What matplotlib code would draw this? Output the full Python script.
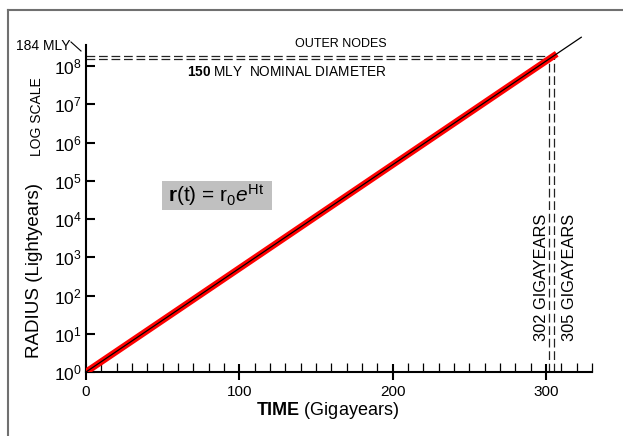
import numpy as np
import matplotlib
matplotlib.use("Agg")
import matplotlib.pyplot as plt
from matplotlib.lines import Line2D
from matplotlib.patches import Rectangle

plt.rcParams['font.family'] = ['Liberation Sans', 'DejaVu Sans']
plt.rcParams['mathtext.fontset'] = 'custom'
plt.rcParams['mathtext.rm'] = 'Liberation Sans'
plt.rcParams['mathtext.it'] = 'Liberation Sans:italic'
plt.rcParams['mathtext.bf'] = 'Liberation Sans:bold'

# data
t_red = [0, 307]            # gigayears, red band
t_black = [0, 323]          # gigayears, thin black line
r_outer = 1.84e8            # 184 MLY
r_nominal = 1.5e8           # 150 MLY
t_outer = 305
t_nominal = 302
H = np.log(r_outer) / t_outer
x_major = [0, 100, 200, 300]
y_decades = [10.0**k for k in range(9)]

W, Hpx = 623, 436
fig = plt.figure(figsize=(W / 100, Hpx / 100), dpi=100)

def fx(x):
    return x / W

def fy(y):
    return 1 - y / Hpx

ax = fig.add_axes([fx(86), fy(372), (592 - 86) / W, (372 - 45) / Hpx])
ax.set_yscale('log')
ax.set_xlim(0, 330)
ax.set_ylim(1, 10**8.55)

for s in ['top', 'right']:
    ax.spines[s].set_visible(False)
for s in ['left', 'bottom']:
    ax.spines[s].set_linewidth(1.5)

tr = np.array(t_red, dtype=float)
tb = np.array(t_black, dtype=float)
ax.plot(tr, np.exp(H * tr), color='#ff0000', lw=4.8, solid_capstyle='butt', zorder=3)
ax.plot(tb, np.exp(H * tb), color='black', lw=0.9, zorder=4, clip_on=False)

dash = (0, (7, 3))
dcol = '#222222'
ax.plot([0, t_outer], [r_outer, r_outer], color=dcol, lw=0.9, ls=dash, clip_on=False)
ax.plot([0, t_nominal], [r_nominal, r_nominal], color=dcol, lw=0.9, ls=dash, clip_on=False)
ax.plot([t_nominal, t_nominal], [1, r_nominal], color=dcol, lw=0.9, ls=dash)
ax.plot([t_outer, t_outer], [1, r_outer], color=dcol, lw=0.9, ls=dash)

ax.set_xticks(x_major)
ax.set_xticks(np.arange(0, 331, 10), minor=True)
ax.tick_params(axis='x', which='major', direction='inout', length=12, width=1.5,
               labelsize=11, pad=3)
ax.tick_params(axis='x', which='minor', direction='in', length=6.5, width=0.9)
ax.set_yticks(y_decades)
ax.yaxis.set_minor_locator(matplotlib.ticker.NullLocator())
ax.tick_params(axis='y', which='major', direction='in', length=6.5, width=1.5,
               labelsize=12.5, pad=3)

# text annotations
fig.text(fx(70), fy(46), '184 MLY', ha='right', va='center', fontsize=10)
fig.add_artist(Line2D([fx(71), fx(81)], [fy(42), fy(51)], color='black', lw=0.8))
fig.text(fx(341), fy(44), 'OUTER NODES', ha='center', va='center', fontsize=9)
fig.text(fx(187), fy(72), r'$\mathbf{150}$ MLY  NOMINAL DIAMETER', ha='left',
         va='center', fontsize=9.8)

fig.text(fx(35), fy(270), 'RADIUS (Lightyears)', rotation=90, ha='center',
         va='center', fontsize=13.5)
fig.text(fx(37), fy(117), 'LOG SCALE', rotation=90, ha='center', va='center',
         fontsize=10)
fig.text(fx(327), fy(410), r'$\mathbf{TIME}$ (Gigayears)', ha='center',
         va='center', fontsize=13)

fig.text(fx(541), fy(277), '302 GIGAYEARS', rotation=90, ha='center',
         va='center', fontsize=11.8)
fig.text(fx(569), fy(277), '305 GIGAYEARS', rotation=90, ha='center',
         va='center', fontsize=11.8)

fig.add_artist(Rectangle((fx(162), fy(210)), fx(272) - fx(162), fy(181) - fy(210),
                         facecolor='#c0c0c0', edgecolor='none'))
fig.text(fx(216), fy(195), r'$\mathbf{r}$(t) = r$_0$$\mathit{e}^{\mathrm{Ht}}$',
         ha='center', va='center', fontsize=15)

# outer frame (left and top edges)
fig.add_artist(Line2D([fx(8), fx(8)], [fy(10), 0], color='#707070', lw=1.5))
fig.add_artist(Line2D([fx(8), 1], [fy(10), fy(10)], color='#707070', lw=1.5))

fig.savefig('out.png', dpi=100)
